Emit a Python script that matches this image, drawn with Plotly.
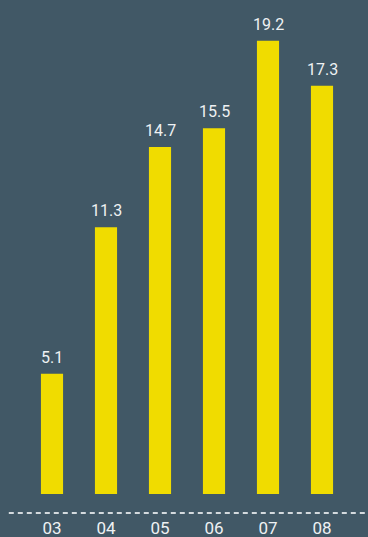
import plotly.graph_objects as go

years = ["03", "04", "05", "06", "07", "08"]
values = [5.1, 11.3, 14.7, 15.5, 19.2, 17.3]

BG = "#415866"
BAR = "#f0dc00"
TXT = "#eef1f3"
FONT = "Liberation Sans Narrow, Roboto, sans-serif"

fig = go.Figure()
fig.add_trace(go.Bar(
    x=years, y=values,
    marker=dict(color=BAR, line=dict(width=0)),
    hoverinfo="skip",
))

# value labels above each bar (placed by category index)
for i, v in enumerate(values):
    fig.add_annotation(
        x=i, y=v, text=f"{v:.1f}", showarrow=False,
        yanchor="bottom", yshift=5,
        font=dict(family=FONT, size=16, color=TXT),
    )

# dashed baseline under the bars
fig.add_shape(
    type="line", xref="paper", yref="paper",
    x0=-0.05, x1=1.07, y0=-0.0385, y1=-0.0385,
    line=dict(color="#d4dade", width=2, dash="5px,4px"),
)

fig.update_layout(
    width=368, height=537,
    margin=dict(l=25, r=19, t=0, b=43, autoexpand=False),
    paper_bgcolor=BG, plot_bgcolor=BG,
    bargap=0.59,
    showlegend=False,
    xaxis=dict(
        type="category", range=[-0.5, 5.5], automargin=False,
        showgrid=False, zeroline=False, showline=False,
        ticks="", ticklabelstandoff=22,
        tickfont=dict(family=FONT, size=17, color=TXT),
        fixedrange=True,
    ),
    yaxis=dict(
        range=[0, 20.93], visible=False, fixedrange=True, automargin=False,
    ),
)

fig.write_html("out.html", config={"displayModeBar": False})
